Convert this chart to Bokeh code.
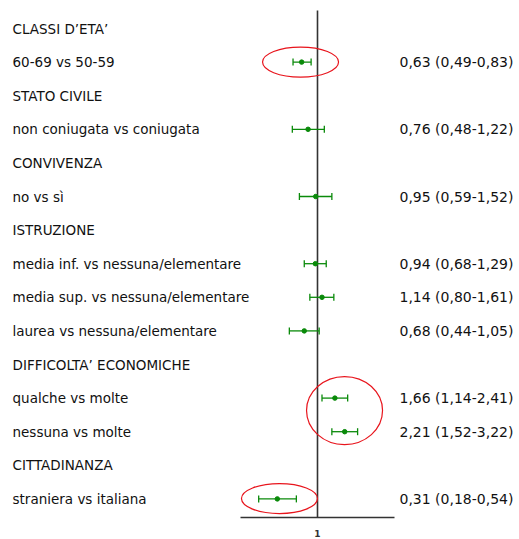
import math
from bokeh.plotting import figure
from bokeh.models import Range1d, FixedTicker, ColumnDataSource, LinearScale
from bokeh.core.properties import value
from bokeh.embed import file_html
from bokeh.resources import INLINE

# ---- data ----
labels = ["CLASSI D’ETA’", "60-69 vs 50-59", "STATO CIVILE", "non coniugata vs coniugata",
          "CONVIVENZA", "no vs sì", "ISTRUZIONE", "media inf. vs nessuna/elementare",
          "media sup. vs nessuna/elementare", "laurea vs nessuna/elementare",
          "DIFFICOLTA’ ECONOMICHE", "qualche vs molte", "nessuna vs molte",
          "CITTADINANZA", "straniera vs italiana"]
item_rows = [1, 3, 5, 7, 8, 9, 11, 12, 14]
odds_ratio = [0.63, 0.76, 0.95, 0.94, 1.14, 0.68, 1.66, 2.21, 0.31]
ci_low = [0.49, 0.48, 0.59, 0.68, 0.80, 0.44, 1.14, 1.52, 0.18]
ci_high = [0.83, 1.22, 1.52, 1.29, 1.61, 1.05, 2.41, 3.22, 0.54]
tick_values = [1]
# highlighted ellipses: centre OR, centre row
hl_x = [0.61, 2.20, 0.33]
hl_y = [1.0, 11.37, 13.99]
hl_h = [30, 68, 30]

def fmt(v):
    return f"{v:.2f}".replace(".", ",")

value_texts = [f"{fmt(o)} ({fmt(l)}-{fmt(h)})" for o, l, h in zip(odds_ratio, ci_low, ci_high)]

FONT = "DejaVu Sans"
W, H = 519, 539
X_ONE = 317.0      # pixel of OR = 1
PX_PER_LN = 34.3   # pixels per natural-log unit
AXIS_HALF = 77     # half length of drawn axis, px
ROW0, ROW_STEP = 28.0, 33.6
AXIS_Y = 517
GREEN = "#0a8a0a"
DARK = "#333333"

x_range = Range1d(math.exp(-X_ONE / PX_PER_LN), math.exp((W - X_ONE) / PX_PER_LN))
y_range = Range1d(start=(AXIS_Y - ROW0) / ROW_STEP, end=-ROW0 / ROW_STEP)

p = figure(width=W, height=H, output_backend="svg", toolbar_location=None,
           x_axis_type="log", x_range=x_range, y_range=y_range,
           min_border_top=0, min_border_bottom=H - AXIS_Y, min_border_left=0, min_border_right=0)
p.outline_line_color = None
p.grid.visible = False
p.yaxis.visible = False
p.extra_x_ranges = {"px": Range1d(0, W)}
p.extra_x_scales = {"px": LinearScale()}

xa = p.xaxis[0]
xa.ticker = FixedTicker(ticks=tick_values)
xa.major_label_overrides = {1: "1"}
xa.bounds = (math.exp(-AXIS_HALF / PX_PER_LN), math.exp(AXIS_HALF / PX_PER_LN))
xa.major_tick_line_color = None
xa.minor_tick_line_color = None
xa.axis_line_color = DARK
xa.axis_line_width = 1.6
xa.major_label_text_font = FONT
xa.major_label_text_font_size = "9px"
xa.major_label_text_font_style = "bold"
xa.major_label_text_color = DARK
xa.major_label_standoff = 6

# reference line at OR = 1
p.segment(x0=[1], y0=[y_range.start], x1=[1], y1=[(10 - ROW0) / ROW_STEP],
          line_color=DARK, line_width=1.6)

# left labels
p.text(x=[12] * len(labels), y=list(range(len(labels))), text=labels, x_range_name="px",
       text_font=value(FONT), text_font_size="13.5px", text_color="#111111",
       text_baseline="middle", text_align="left")

# error bars
src = ColumnDataSource(dict(y=item_rows, o=odds_ratio, lo=ci_low, hi=ci_high))
p.segment(x0="lo", y0="y", x1="hi", y1="y", source=src, line_color=GREEN, line_width=1.3)
p.scatter(x="lo", y="y", source=src, marker="dash", angle=math.pi / 2, size=7,
          line_color=GREEN, line_width=1.3)
p.scatter(x="hi", y="y", source=src, marker="dash", angle=math.pi / 2, size=7,
          line_color=GREEN, line_width=1.3)
p.scatter(x="o", y="y", source=src, marker="circle", size=4.5,
          fill_color=GREEN, line_color=GREEN)

# highlight ellipses
p.ellipse(x=hl_x, y=hl_y, width=76, height=hl_h, width_units="screen", height_units="screen",
          fill_color=None, line_color="#e8141c", line_width=1.2)

# right value texts
p.text(x=[399] * len(value_texts), y=item_rows, text=value_texts, x_range_name="px",
       text_font=value(FONT), text_font_size="14px", text_color="#111111",
       text_baseline="middle", text_align="left")

open("out.html", "w").write(file_html(p, INLINE))
